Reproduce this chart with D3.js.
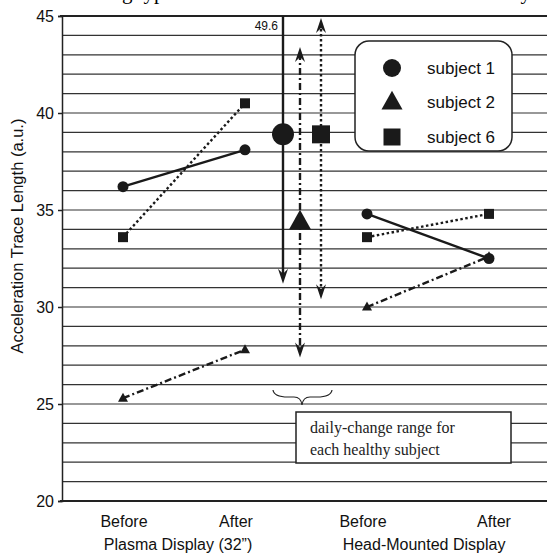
<!DOCTYPE html>
<html><head><meta charset="utf-8">
<script src="https://cdn.jsdelivr.net/npm/d3@7"></script>
<style>body{margin:0;background:#fff}svg{display:block}</style>
</head><body>
<script>
// ---- data ----
const conditions = ["Before", "After", "Before", "After"];
const groups = ["Plasma Display (32\u201D)", "Head-Mounted Display"];
const yTicks = [20, 25, 30, 35, 40, 45];
const subjects = ["subject 1", "subject 2", "subject 6"];
const subject1 = [36.2, 38.1, 34.8, 32.5];
const subject2 = [25.3, 27.8, 30.0, 32.6];
const subject6 = [33.6, 40.5, 33.6, 34.8];
// daily-change range for each healthy subject: [low, centre, high]
const range1 = [31.2, 38.9, 49.6];
const range2 = [27.4, 34.4, 43.4];
const range6 = [30.4, 38.9, 44.9];

(function () {
const W = 547, H = 555;
const pLeft = 62, pTop = 16, pBottom = 501;
const svg = d3.select("body").append("svg").attr("width", W).attr("height", H)
  .style("font-family", "'Liberation Sans', Arial, sans-serif");

const y = d3.scaleLinear().domain([20, 45]).range([pBottom, pTop]);
const x = d3.scaleLinear().domain([0, 3]).range([123, 489]);

// partially cut title (cropped in the reference as well)
svg.append("text").attr("x", 182).attr("y", -1).attr("text-anchor", "end")
  .style("font-family", "'Liberation Serif', serif").style("font-size", "21px").text("Viewing types");
svg.append("text").attr("x", 531).attr("y", -1).attr("text-anchor", "end")
  .style("font-family", "'Liberation Serif', serif").style("font-size", "21px").text("healthy");

// grid lines
const grid = d3.range(21, 45);
svg.append("g").selectAll("line").data(grid).join("line")
  .attr("x1", pLeft).attr("x2", W).attr("y1", d => y(d)).attr("y2", d => y(d))
  .attr("stroke", "#333").attr("stroke-width", 1.2);
[20, 45].forEach(v => svg.append("line").attr("x1", pLeft - 2).attr("x2", W)
  .attr("y1", y(v)).attr("y2", y(v)).attr("stroke", "#222").attr("stroke-width", 2));

// y axis
const yAxis = d3.axisLeft(y).tickValues(yTicks).tickSize(4).tickPadding(4).tickFormat(d3.format("d"));
const ga = svg.append("g").attr("transform", `translate(${pLeft},0)`).call(yAxis);
ga.select(".domain").attr("stroke", "#222").attr("stroke-width", 1.5);
ga.selectAll(".tick line").attr("stroke", "#222").attr("stroke-width", 1.5);
ga.selectAll("text").style("font-size", "16px").style("font-family", "'Liberation Sans', Arial, sans-serif").attr("fill", "#111");

svg.append("text").attr("transform", `translate(23,236) rotate(-90)`)
  .attr("text-anchor", "middle").style("font-size", "16.5px").attr("fill", "#111")
  .text("Acceleration Trace Length (a.u.)");

// x labels
const labelX = [124, 236, 363, 494];
svg.append("g").selectAll("text").data(conditions).join("text")
  .attr("x", (d, i) => labelX[i]).attr("y", 527).attr("text-anchor", "middle")
  .style("font-size", "16px").attr("fill", "#111").text(d => d);
const groupX = [178, 424];
svg.append("g").selectAll("text").data(groups).join("text")
  .attr("x", (d, i) => groupX[i]).attr("y", 550).attr("text-anchor", "middle")
  .style("font-size", "16px").attr("fill", "#111").text(d => d);

// styles
const dashes = {"subject 1": null, "subject 2": "7,3,2,3", "subject 6": "2.5,2.5"};
const series = [
  {name: "subject 1", values: subject1, shape: "circle", range: range1, mx: 283},
  {name: "subject 2", values: subject2, shape: "triangle", range: range2, mx: 300},
  {name: "subject 6", values: subject6, shape: "square", range: range6, mx: 321}
];
function marker(g, shape, cx, cy, s) {
  if (shape === "circle") g.append("circle").attr("cx", cx).attr("cy", cy).attr("r", s / 2).attr("fill", "#1a1a1a");
  else if (shape === "square") g.append("rect").attr("x", cx - s / 2).attr("y", cy - s / 2).attr("width", s).attr("height", s).attr("fill", "#1a1a1a");
  else {
    const h = s * 0.9;
    g.append("path").attr("d", `M${cx},${cy - h * 0.6}L${cx + s / 2},${cy + h * 0.4}L${cx - s / 2},${cy + h * 0.4}Z`).attr("fill", "#1a1a1a");
  }
}
function arrow(g, cx, tipY, dir) { // dir: -1 up, 1 down
  const L = 15, w = 5, n = 10;
  g.append("path").attr("d",
    `M${cx},${tipY}L${cx + w},${tipY - dir * L}L${cx},${tipY - dir * n}L${cx - w},${tipY - dir * L}Z`)
    .attr("fill", "#1a1a1a");
}

// data lines + markers
const line = d3.line().x(d => x(d[0])).y(d => y(d[1]));
series.forEach(s => {
  const g = svg.append("g");
  [[0, 1], [2, 3]].forEach(([a, b]) => {
    g.append("path").attr("d", line([[a, s.values[a]], [b, s.values[b]]]))
      .attr("fill", "none").attr("stroke", "#1a1a1a").attr("stroke-width", 2.4)
      .attr("stroke-dasharray", dashes[s.name]);
  });
  s.values.forEach((v, i) => marker(g, s.shape, x(i), y(v), s.shape === "circle" ? 11 : 10));
});

// daily-change ranges
series.forEach(s => {
  const g = svg.append("g");
  const hi = Math.min(s.range[2], 45);
  const lo = s.range[0];
  g.append("line").attr("x1", s.mx).attr("x2", s.mx)
    .attr("y1", y(hi) + (s.range[2] > 45 ? 0 : 6)).attr("y2", y(lo) - 6)
    .attr("stroke", "#1a1a1a").attr("stroke-width", 2.4).attr("stroke-dasharray", dashes[s.name]);
  arrow(g, s.mx, y(lo), 1);
  if (s.range[2] <= 45) arrow(g, s.mx, y(hi), -1);
  else g.append("text").attr("x", s.mx - 5).attr("y", y(45) + 14).attr("text-anchor", "end")
    .style("font-size", "12px").attr("fill", "#111").text(d3.format(".1f")(s.range[2]));
  const size = s.shape === "circle" ? 22 : s.shape === "square" ? 18 : 22;
  marker(g, s.shape, s.mx, y(s.range[1]), size);
});

// brace + annotation box
svg.append("path")
  .attr("d", "M273,390 Q274,397 288,397 L294,397 Q301,397 302,405 Q303,397 310,397 L317,397 Q331,397 332,390")
  .attr("fill", "none").attr("stroke", "#222").attr("stroke-width", 1.2);
svg.append("rect").attr("x", 296).attr("y", 412).attr("width", 215).attr("height", 51)
  .attr("fill", "#fff").attr("stroke", "#222").attr("stroke-width", 1.5);
const bt = svg.append("text").style("font-family", "'Liberation Serif', serif").style("font-size", "16px").attr("fill", "#222");
bt.append("tspan").attr("x", 310).attr("y", 433).text("daily-change range for");
bt.append("tspan").attr("x", 310).attr("y", 455).text("each healthy subject");

// legend
const lg = svg.append("g");
lg.append("rect").attr("x", 355).attr("y", 41).attr("width", 157).attr("height", 110).attr("rx", 14)
  .attr("fill", "#fff").attr("stroke", "#222").attr("stroke-width", 1.5);
const ly = [68, 102, 137];
series.forEach((s, i) => {
  marker(lg, s.shape, 392, ly[i], s.shape === "circle" ? 18 : s.shape === "square" ? 17 : 21);
  lg.append("text").attr("x", 427).attr("y", ly[i] + 6).style("font-size", "17px").attr("fill", "#111").text(s.name);
});
})();
</script>
</body></html>
